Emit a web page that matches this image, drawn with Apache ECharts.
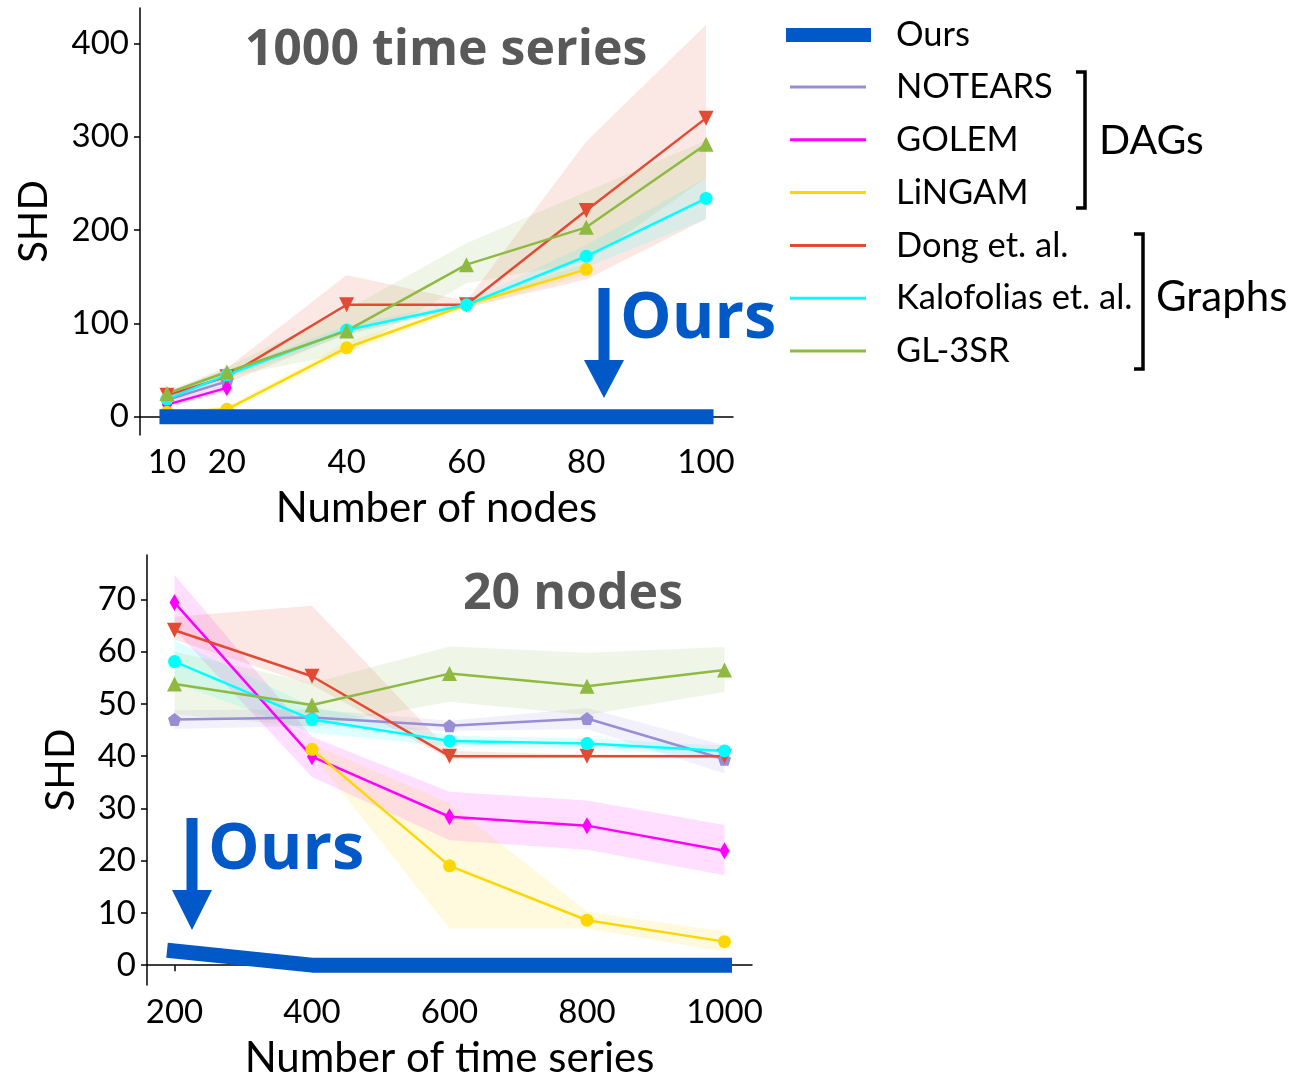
<!DOCTYPE html>
<html>
<head>
  <meta charset="utf-8">
</head>
<body style="height: 100%; margin: 0">
  <div id="container" style="width: 1301px; height: 1074px"></div>
  <script type="text/javascript" src="https://cdn.jsdelivr.net/npm/echarts@6/dist/echarts.min.js"></script>
  <script type="text/javascript">
// ---- data: top panel (1000 time series, x = number of nodes)
var nodes = [10, 20, 40, 60, 80, 100];
var topOurs = [0, 0, 0, 0, 0, 0];
var topNotears = [18, 38, null, null, null, null];
var topNotearsLo = [15, 34, null, null, null, null];
var topNotearsHi = [21, 42, null, null, null, null];
var topGolem = [13, 31, null, null, null, null];
var topGolemLo = [10, 27, null, null, null, null];
var topGolemHi = [16, 35, null, null, null, null];
var topLingam = [5, 8, 74, 120, 158, null];
var topLingamLo = [3, 5, 68, 116, 152, null];
var topLingamHi = [7, 11, 80, 124, 164, null];
var topDong = [23, 43, 120, 120, 221, 320];
var topDongLo = [20, 36, 89, 117, 147, 212];
var topDongHi = [26, 52, 152, 124, 295, 420];
var topKalo = [19, 45, 93, 120, 172, 234];
var topKaloLo = [17, 41, 88, 117, 160, 212];
var topKaloHi = [21, 49, 98, 123, 184, 256];
var topGl = [25, 48, 92, 163, 203, 292];
var topGlLo = [22, 43, 68, 143, 166, 256];
var topGlHi = [28, 53, 115, 186, 241, 296];
var topYTicks = [0, 100, 200, 300, 400];

// ---- data: bottom panel (20 nodes, x = number of time series)
var series_n = [200, 400, 600, 800, 1000];
var botOurs = [2.7, 0, 0, 0, 0];
var botNotears = [47.0, 47.4, 45.8, 47.2, 39.4];
var botNotearsLo = [45.2, 45.8, 44.8, 45.2, 36.7];
var botNotearsHi = [48.8, 49.0, 46.8, 49.2, 42.1];
var botGolem = [69.4, 39.9, 28.4, 26.7, 21.9];
var botGolemLo = [64.2, 36.0, 23.9, 22.1, 17.2];
var botGolemHi = [74.7, 43.7, 33.2, 31.5, 26.8];
var botLingam = [null, 41.3, 19.0, 8.6, 4.5];
var botLingamLo = [null, 40.3, 7.0, 7.0, 2.5];
var botLingamHi = [null, 42.3, 31.0, 10.2, 6.5];
var botDong = [64.1, 55.3, 40, 40, 40];
var botDongLo = [62.3, 53.6, 39.4, 39.7, 39.7];
var botDongHi = [66.7, 68.8, 41.0, 40.3, 40.3];
var botKalo = [58.1, 47.0, 42.9, 42.4, 41.0];
var botKaloLo = [54.0, 44.5, 41.9, 41.4, 40.0];
var botKaloHi = [62.2, 49.5, 43.9, 43.4, 42.0];
var botGl = [53.8, 49.8, 55.8, 53.4, 56.5];
var botGlLo = [48.0, 45.6, 50.4, 47.9, 52.3];
var botGlHi = [60.0, 54.0, 61.0, 59.8, 60.9];
var botYTicks = [0, 10, 20, 30, 40, 50, 60, 70];

var names = ['Ours', 'NOTEARS', 'GOLEM', 'LiNGAM', 'Dong et. al.', 'Kalofolias et. al.', 'GL-3SR'];
var colors = {
  'Ours': '#0059C6',
  'NOTEARS': '#988ED5',
  'GOLEM': '#FF00FF',
  'LiNGAM': '#FFD700',
  'Dong et. al.': '#E24A33',
  'Kalofolias et. al.': '#00FFFF',
  'GL-3SR': '#8EBA42'
};
var symbols = {
  'NOTEARS': ['path://M5,0L10,3.8L8.1,10L1.9,10L0,3.8Z', 13],
  'GOLEM': ['diamond', [10, 17]],
  'LiNGAM': ['circle', 13],
  'Dong et. al.': ['path://M0,0L10,0L5,9Z', 15],
  'Kalofolias et. al.': ['circle', 13],
  'GL-3SR': ['triangle', 15]
};

var dom = document.getElementById('container');
var myChart = echarts.init(dom, null, { renderer: 'canvas' });

function pairs(xs, ys) {
  var out = [];
  xs.forEach(function (x, i) { if (ys[i] != null) out.push([x, ys[i]]); });
  return out;
}

function lineSeries(name, idx, xs, ys) {
  return {
    name: name, type: 'line', xAxisIndex: idx, yAxisIndex: idx,
    data: pairs(xs, ys),
    symbol: symbols[name][0], symbolSize: symbols[name][1],
    itemStyle: { color: colors[name] },
    lineStyle: { color: colors[name], width: 2.5 },
    z: 3, animation: false
  };
}

function bandSeries(idx, xs, lo, hi, color) {
  var k = 0;
  while (lo[k] == null) k++;
  return {
    type: 'custom', xAxisIndex: idx, yAxisIndex: idx, silent: true, z: 1,
    data: [[xs[k], lo[k]]], animation: false,
    renderItem: function (params, api) {
      var up = [], down = [];
      xs.forEach(function (x, i) {
        if (lo[i] == null) return;
        up.push(api.coord([x, hi[i]]));
        down.unshift(api.coord([x, lo[i]]));
      });
      return { type: 'polygon', shape: { points: up.concat(down) }, style: { fill: color, opacity: 0.13 } };
    }
  };
}

function oursSeries(idx, xs, ys) {
  return {
    name: 'Ours', type: 'line', xAxisIndex: idx, yAxisIndex: idx,
    data: pairs(xs, ys), symbol: 'none',
    itemStyle: { color: colors['Ours'] },
    lineStyle: { color: colors['Ours'], width: 15, cap: 'square' },
    z: 5, animation: false
  };
}

var font = 'Lato';
var axisLine = { lineStyle: { color: '#000', width: 1.5 } };
var axisTick = { length: 6, lineStyle: { color: '#000', width: 1.5 } };
var plain = function (v) { return String(v); };

function xAx(idx, min, max, ticks, name) {
  return {
    type: 'value', gridIndex: idx, min: min, max: max,
    name: name, nameLocation: 'middle', nameGap: 52,
    nameTextStyle: { fontFamily: font, fontSize: 42, color: '#000' },
    axisLine: axisLine, splitLine: { show: false },
    axisTick: Object.assign({ customValues: ticks }, axisTick),
    axisLabel: { customValues: ticks, formatter: plain, fontFamily: font, fontSize: 33, color: '#000', margin: 11 }
  };
}
function yAx(idx, min, max, ticks, gap) {
  return {
    type: 'value', gridIndex: idx, min: min, max: max,
    name: 'SHD', nameLocation: 'middle', nameGap: gap,
    nameTextStyle: { fontFamily: font, fontSize: 40, color: '#000' },
    axisLine: axisLine, splitLine: { show: false },
    axisTick: Object.assign({ customValues: ticks }, axisTick),
    axisLabel: { customValues: ticks, formatter: plain, fontFamily: font, fontSize: 33, color: '#000', margin: 11 }
  };
}

var series = [];
series.push(bandSeries(0, nodes, topNotearsLo, topNotearsHi, colors['NOTEARS']));
series.push(bandSeries(0, nodes, topGolemLo, topGolemHi, colors['GOLEM']));
series.push(bandSeries(0, nodes, topLingamLo, topLingamHi, colors['LiNGAM']));
series.push(bandSeries(0, nodes, topDongLo, topDongHi, colors['Dong et. al.']));
series.push(bandSeries(0, nodes, topKaloLo, topKaloHi, colors['Kalofolias et. al.']));
series.push(bandSeries(0, nodes, topGlLo, topGlHi, colors['GL-3SR']));
series.push(lineSeries('NOTEARS', 0, nodes, topNotears));
series.push(lineSeries('GOLEM', 0, nodes, topGolem));
series.push(lineSeries('LiNGAM', 0, nodes, topLingam));
series.push(lineSeries('Dong et. al.', 0, nodes, topDong));
series.push(lineSeries('Kalofolias et. al.', 0, nodes, topKalo));
series.push(lineSeries('GL-3SR', 0, nodes, topGl));
series.push(oursSeries(0, nodes, topOurs));

series.push(bandSeries(1, series_n, botNotearsLo, botNotearsHi, colors['NOTEARS']));
series.push(bandSeries(1, series_n, botGolemLo, botGolemHi, colors['GOLEM']));
series.push(bandSeries(1, series_n, botLingamLo, botLingamHi, colors['LiNGAM']));
series.push(bandSeries(1, series_n, botDongLo, botDongHi, colors['Dong et. al.']));
series.push(bandSeries(1, series_n, botKaloLo, botKaloHi, colors['Kalofolias et. al.']));
series.push(bandSeries(1, series_n, botGlLo, botGlHi, colors['GL-3SR']));
series.push(lineSeries('NOTEARS', 1, series_n, botNotears));
series.push(lineSeries('GOLEM', 1, series_n, botGolem));
series.push(lineSeries('LiNGAM', 1, series_n, botLingam));
series.push(lineSeries('Dong et. al.', 1, series_n, botDong));
series.push(lineSeries('Kalofolias et. al.', 1, series_n, botKalo));
series.push(lineSeries('GL-3SR', 1, series_n, botGl));
series.push(oursSeries(1, series_n, botOurs));

var legendText = { fontFamily: font, fontSize: 34.5, color: '#000', lineHeight: 40 };

function arrow(cx, top, shaftEnd, bottom) {
  return [
    { type: 'rect', shape: { x: cx - 5.5, y: top, width: 11, height: shaftEnd - top + 2 }, style: { fill: colors['Ours'] } },
    { type: 'polygon', shape: { points: [[cx - 20, shaftEnd], [cx + 20, shaftEnd], [cx, bottom]] }, style: { fill: colors['Ours'] } }
  ];
}
function bracket(x, y0, y1) {
  return { type: 'polyline', shape: { points: [[x - 9, y0], [x, y0], [x, y1], [x - 9, y1]] }, style: { stroke: '#000', lineWidth: 3.5, fill: null } };
}
var titleStyle = { fontFamily: 'Open Sans', fontWeight: 'bold', fontSize: 50, fill: '#595959', align: 'center', verticalAlign: 'middle' };
var oursStyle = { fontFamily: 'Open Sans', fontWeight: 'bold', fontSize: 65, fill: colors['Ours'], align: 'left', verticalAlign: 'middle' };

var graphic = [
  { type: 'text', x: 446, y: 51, style: Object.assign({ text: '1000 time series' }, titleStyle) },
  { type: 'text', x: 573, y: 595, style: Object.assign({ text: '20 nodes' }, titleStyle) },
  { type: 'text', x: 620, y: 319, style: Object.assign({ text: 'Ours' }, oursStyle) },
  { type: 'text', x: 208, y: 850, style: Object.assign({ text: 'Ours' }, oursStyle) },
  bracket(1085, 72, 208),
  bracket(1143, 234, 369),
  { type: 'text', x: 1099, y: 141, style: { text: 'DAGs', fontFamily: font, fontSize: 41, fill: '#000', verticalAlign: 'middle' } },
  { type: 'text', x: 1156, y: 297, style: { text: 'Graphs', fontFamily: font, fontSize: 42, fill: '#000', verticalAlign: 'middle' } }
].concat(arrow(604, 288, 360, 398)).concat(arrow(192, 818, 890, 930));

var option = {
  backgroundColor: '#fff',
  animation: false,
  grid: [
    { left: 140, top: 8, width: 593, height: 427, outerBoundsMode: 'none', containLabel: false },
    { left: 147, top: 555, width: 605, height: 430, outerBoundsMode: 'none', containLabel: false }
  ],
  xAxis: [
    xAx(0, 5.5, 104.5, nodes, 'Number of nodes'),
    xAx(1, 160, 1040, series_n, 'Number of time series')
  ],
  yAxis: [
    yAx(0, -19.5, 438, topYTicks, 86),
    yAx(1, -3.8, 78.5, botYTicks, 66)
  ],
  legend: [
    {
      data: [{ name: 'Ours', icon: 'rect' }], orient: 'vertical', left: 786, top: 15, padding: 0,
      itemWidth: 85, itemHeight: 14, textStyle: Object.assign({ padding: [0, 0, 0, 20] }, legendText),
      selectedMode: false
    },
    {
      data: names.slice(1).map(function (n) { return { name: n, icon: 'rect' }; }),
      orient: 'vertical', left: 790, top: 67, itemGap: 12.8, padding: 0,
      itemWidth: 76, itemHeight: 3, textStyle: Object.assign({ padding: [0, 0, 0, 25] }, legendText),
      selectedMode: false
    }
  ],
  graphic: graphic,
  series: series
};

myChart.setOption(option);
window.addEventListener('resize', myChart.resize);
  </script>
</body>
</html>
